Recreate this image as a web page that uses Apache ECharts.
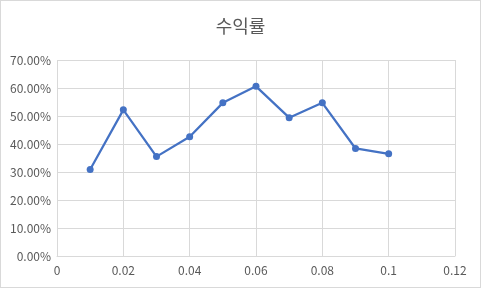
<!DOCTYPE html>
<html>
<head>
<meta charset="utf-8">
<script src="https://cdn.jsdelivr.net/npm/echarts@6/dist/echarts.min.js"></script>
<style>
html,body{margin:0;padding:0;background:#fff;}
#c{width:481px;height:288px;box-sizing:border-box;border:1px solid #d9d9d9;}
</style>
</head>
<body>
<div id="c"></div>
<script>
const titleText = '수익률';
const xValues = [0.01, 0.02, 0.03, 0.04, 0.05, 0.06, 0.07, 0.08, 0.09, 0.1];
const yValues = [0.309, 0.522, 0.355, 0.426, 0.547, 0.606, 0.494, 0.547, 0.384, 0.365];

const chart = echarts.init(document.getElementById('c'), null, {renderer: 'canvas'});
const font = '"Malgun Gothic","Noto Sans CJK KR","Noto Sans",sans-serif';
chart.setOption({
  animation: false,
  title: {
    text: titleText,
    left: 'center',
    top: 11,
    textStyle: {fontFamily: font, fontSize: 18, fontWeight: 'normal', color: '#595959'}
  },
  grid: {left: 56, right: 25, top: 59, bottom: 31, containLabel: false},
  xAxis: {
    type: 'value',
    min: 0, max: 0.12, interval: 0.02,
    axisLine: {show: true, lineStyle: {color: '#d9d9d9'}},
    axisTick: {show: false},
    splitLine: {show: true, lineStyle: {color: '#d9d9d9'}},
    axisLabel: {
      color: '#595959', fontFamily: font, fontSize: 12, margin: 8,
      formatter: v => { const s = +v.toFixed(2); return s === 0 ? '0' : String(s); }
    }
  },
  yAxis: {
    type: 'value',
    min: 0, max: 0.7, interval: 0.1,
    axisLine: {show: false},
    axisTick: {show: false},
    splitLine: {show: true, lineStyle: {color: '#d9d9d9'}},
    axisLabel: {
      color: '#595959', fontFamily: font, fontSize: 12, margin: 6,
      formatter: v => (v * 100).toFixed(2) + '%'
    }
  },
  series: [{
    type: 'line',
    data: xValues.map((x, i) => [x, yValues[i]]),
    symbol: 'circle',
    symbolSize: 7,
    lineStyle: {color: '#4472c4', width: 2.25},
    itemStyle: {color: '#4472c4'}
  }]
});
</script>
</body>
</html>
